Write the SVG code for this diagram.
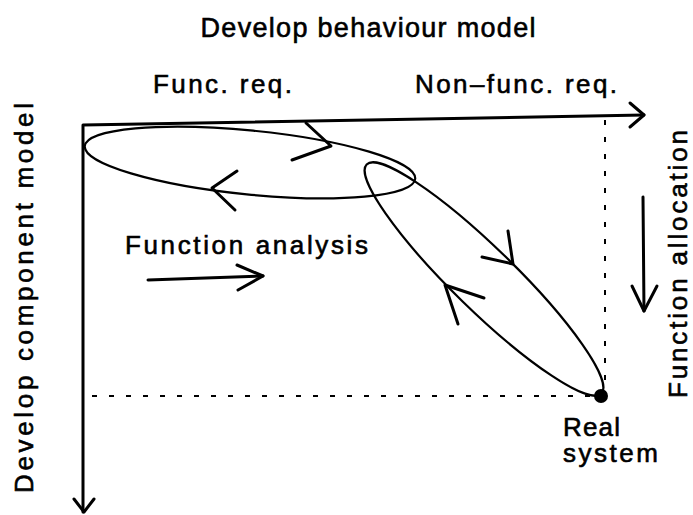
<svg xmlns="http://www.w3.org/2000/svg" width="693" height="515" viewBox="0 0 693 515">
<style>
  text { font-family: "Liberation Sans", Arial, sans-serif; font-size: 26px; fill: #000; stroke: #000; stroke-width: 0.6; }
  .axis { stroke: #000; stroke-width: 3; fill: none; stroke-linecap: round; stroke-linejoin: round; }
  .loop { stroke: #000; stroke-width: 2.2; fill: none; }
  .chev { stroke: #000; stroke-width: 3; fill: none; stroke-linecap: round; stroke-linejoin: round; }
  .dash { stroke: #000; stroke-width: 2; fill: none; stroke-dasharray: 5 12; }
</style>
<rect width="693" height="515" fill="#fff"/>

<g id="labels">
  <text x="368" y="37" text-anchor="middle" textLength="335" lengthAdjust="spacing" style="font-size:27px">Develop behaviour model</text>
  <text x="153" y="93" textLength="139" lengthAdjust="spacing">Func. req.</text>
  <text x="415" y="93" textLength="202" lengthAdjust="spacing">Non–func. req.</text>
  <text transform="translate(33,298) rotate(-90)" text-anchor="middle" textLength="390" lengthAdjust="spacing">Develop component model</text>
  <text transform="translate(687,264) rotate(-90)" text-anchor="middle" textLength="268" lengthAdjust="spacing">Function allocation</text>
  <text x="125" y="254" textLength="243" lengthAdjust="spacing">Function analysis</text>
</g>

<g id="axes">
  <path class="axis" d="M83,512 L83,125 L644,115"/>
  <path class="axis" d="M630,103 L644,115 L630,127"/>
  <path class="axis" d="M74,499 L84,512 L94,499"/>
</g>

<g id="guides">
  <path class="dash" d="M605,120 L605,388"/>
  <path class="dash" d="M590,396 L88,396"/>
</g>

<g id="behaviour-loop">
  <ellipse class="loop" cx="250" cy="162.5" rx="166" ry="32" transform="rotate(5.7 250 162.5)"/>
  <path class="chev" d="M306,123 L331,146 L292,160"/>
  <path class="chev" d="M237,171 L212,188 L235,210"/>
</g>

<g id="component-loop">
  <ellipse class="loop" cx="484" cy="279" rx="164" ry="31" transform="rotate(44.3 484 279)"/>
  <path class="chev" d="M508,231 L513,264 L482,257"/>
  <path class="chev" d="M484,298 L445,285 L458,324"/>
</g>

<g id="real-system">
  <circle cx="601" cy="396" r="7" fill="#000"/>
  <text x="563" y="436" textLength="57" lengthAdjust="spacing">Real</text>
  <text x="563" y="462" textLength="95" lengthAdjust="spacing">system</text>
</g>

<g id="connectors">
  <path class="chev" d="M148,280 L263,276"/>
  <path class="chev" d="M237,265 L263,276 L238,290"/>
  <path class="chev" d="M643,197 L644,311"/>
  <path class="chev" d="M632,286 L644,311 L657,286"/>
</g>
</svg>
